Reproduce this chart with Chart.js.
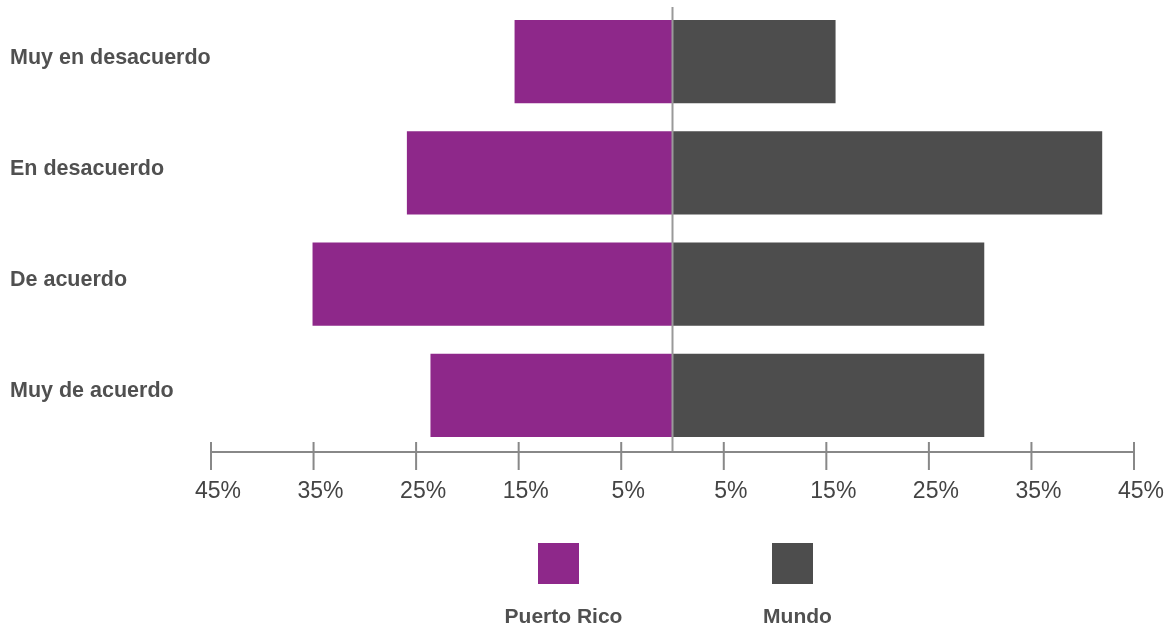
<!DOCTYPE html>
<html>
<head>
<meta charset="utf-8">
<script src="https://cdn.jsdelivr.net/npm/chart.js@4.4.1/dist/chart.umd.min.js"></script>
<style>
  html, body { margin: 0; padding: 0; background: #fff; }
</style>
</head>
<body>
<canvas id="grafica" width="1175" height="629"></canvas>
<script>
// Datos (porcentajes)
const categorias = ['Muy en desacuerdo', 'En desacuerdo', 'De acuerdo', 'Muy de acuerdo'];
const puertoRico = [15.4, 25.9, 35.1, 23.6];
const mundo = [15.9, 41.9, 30.4, 30.4];
const marcasEje = [-45, -35, -25, -15, -5, 5, 15, 25, 35, 45];

const colorPR = '#8e288a';
const colorMundo = '#4d4d4d';
const fuente = "'Liberation Sans', Arial, sans-serif";

// Eje central, eje horizontal con marcas y leyenda
const ejePlugin = {
    id: 'ejeCentral',
    afterDatasetsDraw(chart) {
        const { ctx, chartArea, scales: { x } } = chart;
        ctx.save();
        const x0 = x.getPixelForValue(0);
        ctx.strokeStyle = '#999';
        ctx.lineWidth = 2;
        ctx.beginPath();
        ctx.moveTo(x0, chartArea.top + 1);
        ctx.lineTo(x0, chartArea.bottom + 1);
        ctx.stroke();

        const yEje = chartArea.bottom + 1;
        ctx.strokeStyle = '#888';
        ctx.beginPath();
        ctx.moveTo(x.getPixelForValue(marcasEje[0]), yEje);
        ctx.lineTo(x.getPixelForValue(marcasEje[marcasEje.length - 1]), yEje);
        marcasEje.forEach(v => {
            const px = x.getPixelForValue(v);
            ctx.moveTo(px, yEje - 10);
            ctx.lineTo(px, yEje + 18);
        });
        ctx.stroke();
        ctx.restore();
    },
    afterDraw(chart) {
        const { ctx } = chart;
        const centros = [558.5, 792.5];
        ctx.save();
        chart.data.datasets.forEach((ds, i) => {
            ctx.fillStyle = ds.backgroundColor;
            ctx.fillRect(centros[i] - 20.5, 543, 41, 41);
            ctx.fillStyle = '#505050';
            ctx.font = 'bold 21px ' + fuente;
            ctx.textAlign = 'center';
            ctx.textBaseline = 'middle';
            ctx.fillText(ds.label, centros[i] + 5, 617);
        });
        ctx.restore();
    }
};

const ctx = document.getElementById('grafica').getContext('2d');
new Chart(ctx, {
    type: 'bar',
    data: {
        labels: categorias,
        datasets: [
            {
                label: 'Puerto Rico',
                data: puertoRico.map(v => -v),
                backgroundColor: colorPR,
                barPercentage: 0.75,
                categoryPercentage: 1
            },
            {
                label: 'Mundo',
                data: mundo,
                backgroundColor: colorMundo,
                barPercentage: 0.75,
                categoryPercentage: 1
            }
        ]
    },
    options: {
        indexAxis: 'y',
        responsive: false,
        animation: false,
        layout: { padding: { left: 10, right: 41, top: 6, bottom: 126 } },
        plugins: {
            legend: { display: false },
            tooltip: { enabled: false }
        },
        scales: {
            x: {
                stacked: true,
                min: -45,
                max: 45,
                grid: { display: false },
                border: { display: false },
                afterBuildTicks: s => { s.ticks = marcasEje.map(v => ({ value: v })); },
                afterFit: s => { s.height = 52; s.paddingLeft = 0; s.paddingRight = 0; },
                ticks: {
                    autoSkip: false,
                    maxRotation: 0,
                    padding: 19,
                    labelOffset: 7,
                    color: '#444',
                    font: { family: fuente, size: 23 },
                    callback: v => Math.abs(v) + '%'
                }
            },
            y: {
                stacked: true,
                grid: { display: false },
                border: { display: false },
                afterFit: s => { s.width = 201; s.paddingTop = 0; s.paddingBottom = 0; },
                ticks: {
                    crossAlign: 'far',
                    labelOffset: -4,
                    color: '#505050',
                    font: { family: fuente, size: 21.5, weight: 'bold' }
                }
            }
        }
    },
    plugins: [ejePlugin]
});
</script>
</body>
</html>
